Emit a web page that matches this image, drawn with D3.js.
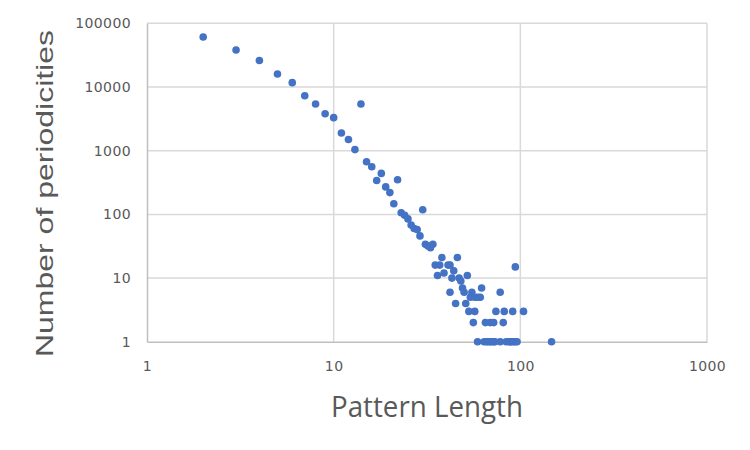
<!DOCTYPE html>
<html>
<head>
<meta charset="utf-8">
<script src="https://cdn.jsdelivr.net/npm/d3@7"></script>
<style>
  html, body { margin: 0; padding: 0; background: #fff; }
  svg { display: block; }
</style>
</head>
<body>
<svg id="chart" width="750" height="450"></svg>
<script>
// Data (Pattern Length vs Number of periodicities)
const patternLength = [
  2, 3, 4, 5, 6, 7, 8, 9, 10, 11, 12, 13, 14, 15, 16, 17, 18, 19, 20, 21, 22,
  23, 24, 25, 26, 27, 28, 29, 30, 31, 32, 33, 34, 35, 36, 37, 38, 39, 41, 42, 42,
  43, 44, 45, 46, 47, 48, 49, 50, 51, 52, 53, 54, 55, 56, 57, 57, 59, 61, 62,
  65, 69, 72, 74, 78, 81, 82, 91, 94, 104,
  59, 64, 66, 67, 69, 70, 72, 73, 78, 84, 87, 88, 90, 92, 94, 96, 147
];
const periodicities = [
  61000, 38000, 26000, 16000, 11700, 7300, 5400, 3800, 3300, 1900, 1500, 1040, 5400, 670, 560, 340, 440, 270, 220, 147, 350,
  106, 97, 85, 68, 60, 58, 46, 118, 34, 32, 30, 34, 16, 11, 16, 21, 12, 16, 6, 16,
  10, 13, 4, 21, 10, 9, 7, 6, 4, 11, 3, 5, 6, 2, 5, 3, 5, 5, 7,
  2, 2, 2, 3, 6, 2, 3, 3, 15, 3,
  1, 1, 1, 1, 1, 1, 1, 1, 1, 1, 1, 1, 1, 1, 1, 1, 1
];
const xTicks = [1, 10, 100, 1000];
const yTicks = [1, 10, 100, 1000, 10000, 100000];
const xTitle = "Pattern Length";
const yTitle = "Number of periodicities";

const svg = d3.select("#chart");
const mLeft = 147, mRight = 707, mTop = 23.3, mBottom = 341.8;

const x = d3.scaleLog().domain([1, 1000]).range([mLeft, mRight]);
const y = d3.scaleLog().domain([1, 100000]).range([mBottom, mTop]);

const gridColor = "#d9d9d9";
const axisColor = "#bfbfbf";
const textColor = "#595959";

// Gridlines
svg.append("g").selectAll("line").data(yTicks.filter(d => d !== 1)).join("line")
  .attr("x1", mLeft).attr("x2", mRight)
  .attr("y1", d => y(d)).attr("y2", d => y(d))
  .attr("stroke", gridColor).attr("stroke-width", 1.5);
svg.append("g").selectAll("line").data(xTicks.filter(d => d !== 1)).join("line")
  .attr("x1", d => x(d)).attr("x2", d => x(d))
  .attr("y1", mTop).attr("y2", mBottom)
  .attr("stroke", gridColor).attr("stroke-width", 1.5);

// Axes
const xAxis = svg.append("g").attr("transform", `translate(0,${mBottom})`)
  .call(d3.axisBottom(x).tickValues(xTicks).tickFormat(d3.format("d")).tickSize(0).tickPadding(19));
const yAxis = svg.append("g").attr("transform", `translate(${mLeft},0)`)
  .call(d3.axisLeft(y).tickValues(yTicks).tickFormat(d3.format("d")).tickSize(0).tickPadding(16));
[xAxis, yAxis].forEach(g => {
  g.select(".domain").attr("stroke", axisColor).attr("stroke-width", 1.5);
  g.selectAll("text")
    .attr("fill", textColor)
    .style("font-family", "'DejaVu Sans', sans-serif")
    .style("font-size", "14px")
    .style("letter-spacing", "0.4px");
});

// Points
svg.append("g").selectAll("circle")
  .data(patternLength.map((d, i) => [d, periodicities[i]]))
  .join("circle")
  .attr("cx", d => x(d[0]))
  .attr("cy", d => y(d[1]))
  .attr("r", 3.8)
  .attr("fill", "#4472C4");

// Axis titles
svg.append("text")
  .attr("x", 427).attr("y", 416.5)
  .attr("text-anchor", "middle")
  .attr("textLength", 192).attr("lengthAdjust", "spacingAndGlyphs")
  .attr("fill", textColor)
  .style("font-family", "'Open Sans', sans-serif")
  .style("font-size", "29px")
  .text(xTitle);

svg.append("text")
  .attr("transform", "translate(53,193.5) rotate(-90)")
  .attr("text-anchor", "middle")
  .attr("textLength", 327).attr("lengthAdjust", "spacingAndGlyphs")
  .attr("fill", textColor)
  .style("font-family", "'Liberation Sans', Arial, sans-serif")
  .style("font-size", "24px")
  .text(yTitle);
</script>
</body>
</html>
